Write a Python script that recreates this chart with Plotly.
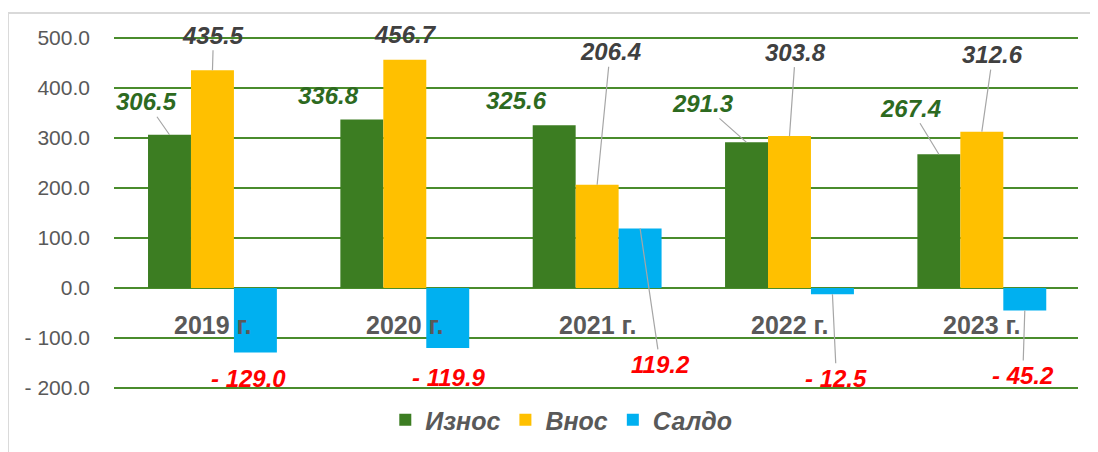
import plotly.graph_objects as go

# ---- data ----
years = ["2019 г.", "2020 г.", "2021 г.", "2022 г.", "2023 г."]
iznos = [306.5, 336.8, 325.6, 291.3, 267.4]   # Износ
vnos = [435.5, 456.7, 206.4, 303.8, 312.6]    # Внос
saldo = [-129.0, -119.9, 119.2, -12.5, -45.2]  # Салдо
series_names = ["Износ", "Внос", "Салдо"]
tick_values = [-200, -100, 0, 100, 200, 300, 400, 500]

# ---- styles ----
FONT = "Liberation Sans, Arial, sans-serif"
bar_colors = ["#3C7D22", "#FFC000", "#00B0F0"]
label_colors = ["#2D6A1F", "#404040", "#FF0000"]
grid_color = "#4A8C2C"
BARGAP = 0.33
PAGE_OFFSET = 8  # default body margin of the html page
PAD = 5          # extra px above/below outer gridlines so they are drawn

# label offsets in pixels (dx, dy from bar end), and whether a leader line is drawn
label_pos = [
    [(-23, -33, True), (-33, -24, False), (-38, -25, False), (-44, -39, True), (-28, -46, True)],
    [(1, -35, True), (1, -25, False), (13, -133, True), (6, -84, True), (11, -77, True)],
    [(-7, 26, False), (1, 30, False), (20, 136, True), (4, 84, True), (-2, 65, True)],
]


def fmt(v):
    return f"- {abs(v):.1f}" if v < 0 else f"{v:.1f}"


all_series = [iznos, vnos, saldo]

fig = go.Figure()
for name, vals, col in zip(series_names, all_series, bar_colors):
    fig.add_trace(go.Bar(
        x=years, y=vals, name=name,
        marker=dict(color=col, line=dict(width=0)),
        hoverinfo="x+y+name",
    ))

annotations = []
bar_w = (1 - BARGAP) / 3
for j, (vals, col) in enumerate(zip(all_series, label_colors)):
    for i, v in enumerate(vals):
        dx, dy, arrow = label_pos[j][i]
        xpos = i + (j - 1) * bar_w
        common = dict(
            x=xpos, y=v, xref="x", yref="y", text=fmt(v),
            font=dict(family=FONT, size=24, color=col, weight="bold", style="italic"),
            xanchor="center", yanchor="middle",
        )
        if arrow:
            annotations.append(dict(
                **common, showarrow=True, arrowhead=0, arrowwidth=1.2,
                arrowcolor="#A6A6A6", ax=dx, ay=dy, standoff=0,
            ))
        else:
            annotations.append(dict(**common, showarrow=False, xshift=dx, yshift=-dy))

# category labels near the zero line
for i, yr in enumerate(years):
    annotations.append(dict(
        x=i, y=-73, xref="x", yref="y", text=yr, showarrow=False,
        font=dict(family=FONT, size=25, color="#595959", weight="bold"),
        xanchor="center", yanchor="middle",
    ))

plot_h = 350 + 2 * PAD  # px
y_lo = -200 - PAD * 2   # 0.5 px per unit
y_hi = 500 + PAD * 2

fig.update_layout(
    width=1098, height=452,
    margin=dict(l=114 - PAGE_OFFSET, r=20 + PAGE_OFFSET,
                t=38 - PAD - PAGE_OFFSET, b=64 - PAD + PAGE_OFFSET),
    paper_bgcolor="white", plot_bgcolor="white",
    barmode="group", bargap=BARGAP, bargroupgap=0,
    font=dict(family=FONT, color="#595959"),
    showlegend=True,
    legend=dict(
        orientation="h", x=0.464, xanchor="center", y=-(420 - 388 - PAD) / plot_h, yanchor="middle",
        font=dict(family=FONT, size=25, color="#595959", weight="bold", style="italic"),
        itemwidth=30, traceorder="normal",
    ),
    xaxis=dict(
        type="category", showticklabels=False, showgrid=False, zeroline=False,
        showline=False, ticks="",
    ),
    yaxis=dict(
        range=[y_lo, y_hi], tickvals=tick_values, ticktext=[fmt(t) for t in tick_values],
        tickfont=dict(family=FONT, size=21, color="#595959"),
        showgrid=True, gridcolor=grid_color, gridwidth=2,
        zeroline=True, zerolinecolor=grid_color, zerolinewidth=2,
        showline=False, ticks="", ticklabelstandoff=23,
    ),
    annotations=annotations,
    shapes=[dict(
        type="rect", xref="paper", yref="paper",
        x0=-0.11, x1=1.1, y0=-0.4, y1=(388 + PAD - 13) / plot_h,
        line=dict(color="#D9D9D9", width=2), fillcolor="rgba(0,0,0,0)", layer="below",
    )],
)

fig.write_html("out.html")
